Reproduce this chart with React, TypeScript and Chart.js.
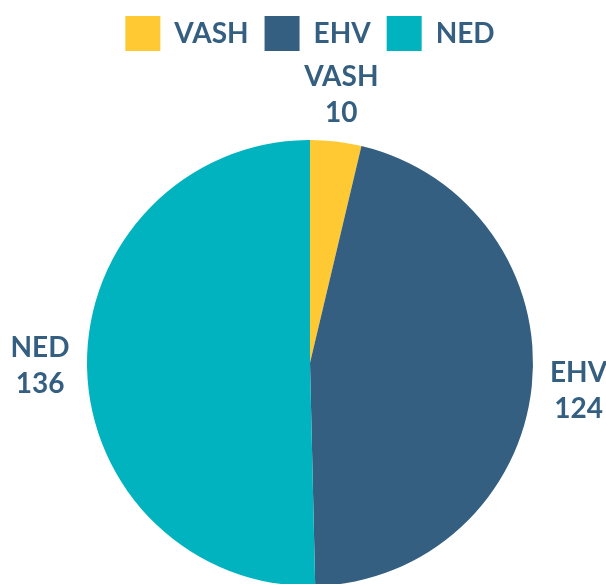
import React, { useEffect, useRef } from "react";
import { Chart, registerables } from "chart.js";

Chart.register(...registerables);

const categories = ["VASH", "EHV", "NED"];
const values = [10, 124, 136];
const colors = ["#FFC933", "#345F80", "#00B3BE"];
const textColor = "#345F80";

const labelPlugin = {
  id: "outerLabels",
  afterDatasetsDraw(chart: any) {
    const meta = chart.getDatasetMeta(0);
    const ctx = chart.ctx;
    ctx.save();
    ctx.fillStyle = textColor;
    ctx.font = "bold 28px Lato";
    ctx.textAlign = "center";
    ctx.textBaseline = "middle";
    meta.data.forEach((arc: any, i: number) => {
      const mid = (arc.startAngle + arc.endAngle) / 2;
      const r = arc.outerRadius + 47;
      const px = arc.x + Math.cos(mid) * r;
      const py = arc.y + Math.sin(mid) * r;
      ctx.fillText(categories[i], px, py - 18);
      ctx.fillText(String(values[i]), px, py + 18);
    });
    ctx.restore();
  },
};

const legendSpace = {
  id: "legendSpace",
  beforeInit(chart: any) {
    const legend = chart.legend;
    if (!legend) return;
    const orig = legend.fit;
    legend.fit = function () {
      orig.call(this);
      this.height = 140;
    };
  },
};

export default function App() {
  const ref = useRef<HTMLCanvasElement | null>(null);
  useEffect(() => {
    if (!ref.current) return;
    const chart = new Chart(ref.current, {
      type: "pie",
      data: {
        labels: categories,
        datasets: [
          {
            data: values,
            backgroundColor: colors,
            borderWidth: 0,
            hoverOffset: 0,
          },
        ],
      },
      options: {
        responsive: false,
        animation: false,
        layout: { padding: { left: 87, right: 73, top: 0, bottom: 14 } },
        plugins: {
          tooltip: { enabled: false },
          legend: {
            position: "top",
            labels: {
              font: { family: "Lato", size: 28, weight: "bold" },
              color: textColor,
              boxWidth: 35,
              boxHeight: 35,
              padding: 16,
            },
          },
        },
      },
      plugins: [legendSpace, labelPlugin],
    });
    return () => chart.destroy();
  }, []);
  return (
    <div style={{ position: "fixed", left: 0, top: 0, width: 606, height: 600 }}>
      <canvas ref={ref} width={606} height={600} />
    </div>
  );
}
